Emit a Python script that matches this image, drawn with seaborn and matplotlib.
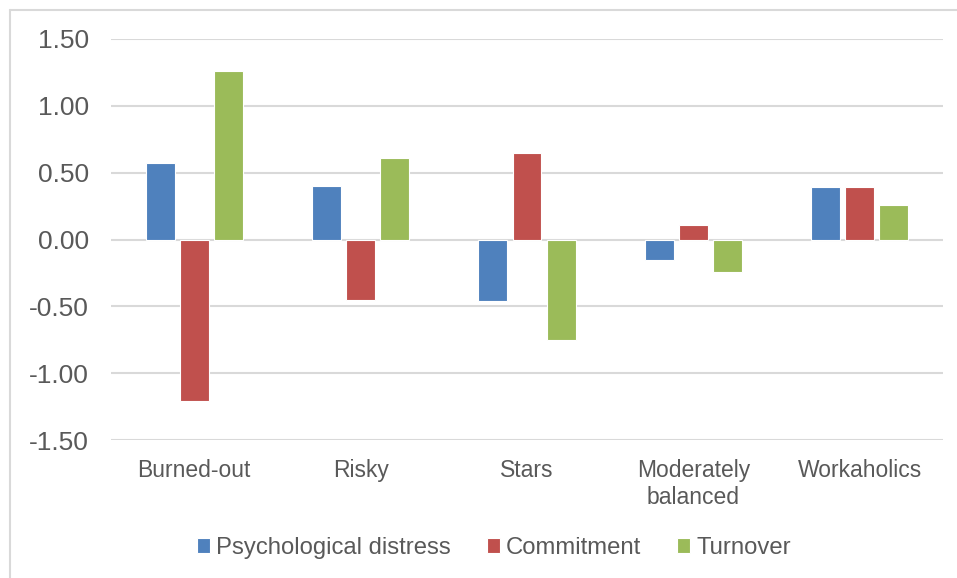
import matplotlib.pyplot as plt
import pandas as pd
import seaborn as sns
from matplotlib.lines import Line2D

sns.set_theme(style="white")
plt.rcParams["font.family"] = ["Liberation Sans", "DejaVu Sans"]

# data
profiles = ["Burned-out", "Risky", "Stars", "Moderately\nbalanced", "Workaholics"]
distress = [0.57, 0.40, -0.46, -0.15, 0.39]
commitment = [-1.21, -0.45, 0.65, 0.11, 0.39]
turnover = [1.26, 0.61, -0.75, -0.24, 0.26]
series_names = ["Psychological distress", "Commitment", "Turnover"]
y_ticks = [-1.5, -1.0, -0.5, 0.0, 0.5, 1.0, 1.5]

palette = ["#4F81BD", "#C0504D", "#9BBB59"]
text_color = "#595959"
grid_color = "#D9D9D9"

frames = []
for name, vals in zip(series_names, [distress, commitment, turnover]):
    frames.append(pd.DataFrame({"Profile": profiles, "Score": vals, "Variable": name}))
df = pd.concat(frames, ignore_index=True)

fig = plt.figure(figsize=(9.57, 5.78), dpi=100)
ax = fig.add_axes([111 / 957, 1 - 440 / 578, 832 / 957, 401 / 578])

sns.barplot(
    data=df,
    x="Profile",
    y="Score",
    hue="Variable",
    order=profiles,
    hue_order=series_names,
    palette=palette,
    width=0.615,
    gap=0.15,
    edgecolor="white",
    linewidth=0.8,
    saturation=1,
    ax=ax,
)

ax.set_ylim(-1.5, 1.5)
ax.set_yticks(y_ticks)
ax.set_yticklabels([f"{v:.2f}" for v in y_ticks])
ax.set_xlabel("")
ax.set_ylabel("")
ax.set_axisbelow(True)
ax.yaxis.grid(True, color=grid_color, linewidth=1.5)
ax.xaxis.grid(False)
for s in ax.spines.values():
    s.set_visible(False)
ax.tick_params(axis="y", length=0, pad=16, labelsize=19, labelcolor=text_color)
ax.tick_params(axis="x", length=0, pad=14, labelsize=16.5, labelcolor=text_color)

handles, labels = ax.get_legend_handles_labels()
ax.get_legend().remove()
fig.legend(
    handles,
    labels,
    loc="center",
    bbox_to_anchor=(494 / 957, 1 - 548 / 578),
    ncol=3,
    frameon=False,
    fontsize=17.2,
    labelcolor=text_color,
    handlelength=0.55,
    handleheight=0.55,
    handletextpad=0.25,
    columnspacing=1.5,
)

# light frame of the chart area (top and left edges visible in the crop)
fig.add_artist(Line2D([10 / 957, 1], [1 - 10 / 578, 1 - 10 / 578],
                      transform=fig.transFigure, color=grid_color, linewidth=1.5))
fig.add_artist(Line2D([10 / 957, 10 / 957], [0, 1 - 10 / 578],
                      transform=fig.transFigure, color=grid_color, linewidth=1.5))

fig.savefig("out.png", dpi=100)
plt.close(fig)
